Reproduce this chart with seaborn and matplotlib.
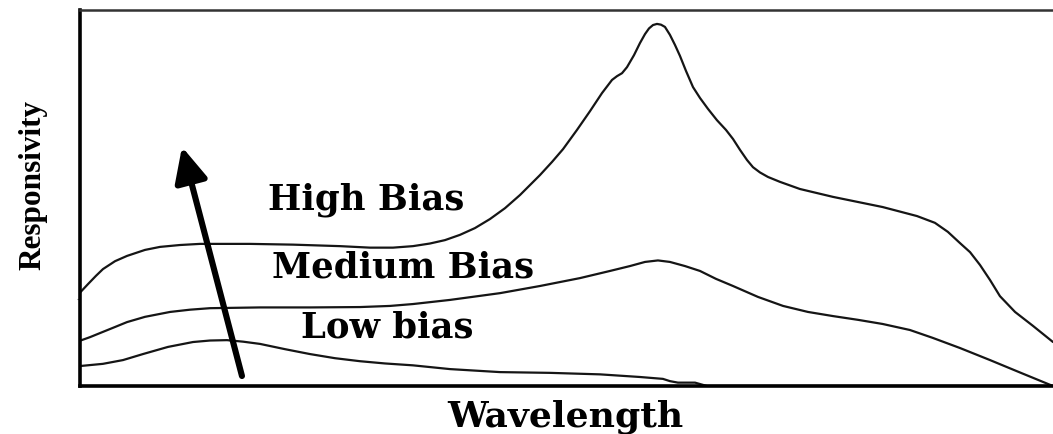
import matplotlib
matplotlib.use("Agg")
import matplotlib.pyplot as plt
import numpy as np
import pandas as pd
import seaborn as sns

# Relative responsivity spectra (arbitrary units) at three bias levels
wl_high = [0, 0.87, 1.69, 2.41, 3.65, 4.88, 6.73, 8.27, 10.32, 12.38, 17.51, 21.93,
           26.76, 29.84, 32.2, 34.25, 36.0, 37.54, 39.08, 40.62, 42.16, 43.71,
           45.25, 47.3, 48.54, 49.67, 51.1, 52.44, 53.67, 54.7, 55.21, 55.73, 56.24,
           56.96, 57.57, 58.09, 58.5, 58.91, 59.32, 59.73, 60.14, 60.65, 61.17,
           61.68, 62.3, 63.02, 63.74, 64.56, 65.48, 66.41, 67.13, 67.85, 68.57,
           69.18, 69.9, 70.72, 71.95, 74.0, 77.4, 82.5, 86.03, 87.87, 89.2, 90.45,
           91.48, 92.5, 93.53, 94.55, 96.1, 97.94, 100]
resp_high = [24.7, 27.1, 29.3, 31.1, 33.2, 34.6, 36.2, 37.0, 37.5, 37.8, 37.8, 37.6,
             37.2, 36.8, 36.8, 37.2, 37.9, 38.8, 40.2, 42.0, 44.4, 47.3,
             50.8, 56.1, 59.6, 63.0, 68.1, 73.1, 77.9, 81.4, 82.4, 83.2, 84.8,
             88.0, 91.2, 93.6, 95.1, 96.0, 96.3, 96.1, 95.5, 93.4, 90.7,
             87.8, 83.8, 79.5, 76.6, 73.7, 70.7, 68.1, 65.7, 62.8, 60.1,
             58.2, 56.8, 55.6, 54.3, 52.4, 50.3, 47.6, 45.2, 43.4, 41.0, 38.0,
             35.6, 32.2, 28.2, 23.9, 19.7, 16.0, 11.7]

wl_medium = [0, 1.08, 2.41, 3.65, 4.88, 6.73, 9.30, 11.35, 13.41, 18.54, 23.68,
             28.81, 31.9, 34.25, 38.06, 43.2, 47.3, 51.41, 54.49, 56.54, 58.09,
             59.42, 60.65, 62.2, 63.74, 65.38, 67.13, 69.69, 72.27, 74.83, 77.4,
             79.97, 82.5, 85.3, 87.65, 90.45, 93.53, 96.61, 100]
resp_medium = [12.0, 13.0, 14.4, 15.7, 17.0, 18.4, 19.7, 20.3, 20.7, 20.9, 20.9,
               21.0, 21.3, 21.8, 22.9, 24.7, 26.6, 28.7, 30.6, 31.9, 33.0,
               33.4, 33.0, 31.9, 30.6, 28.5, 26.6, 23.7, 21.3, 19.7, 18.6,
               17.6, 16.5, 14.9, 12.8, 10.1, 6.9, 3.6, 0.0]

wl_low = [0, 2.41, 4.47, 6.52, 9.09, 11.66, 13.41, 15.15, 16.79, 18.54, 21.11,
          23.67, 26.24, 28.81, 31.38, 34.25, 38.06, 43.2, 48.33, 53.47, 57.57,
          59.93, 60.65, 61.47, 63.23, 64.46, 100]
resp_low = [5.3, 5.9, 6.9, 8.5, 10.4, 11.7, 12.1, 12.2, 11.8, 11.2, 9.8,
            8.5, 7.4, 6.6, 6.0, 5.5, 4.5, 3.7, 3.5, 3.1, 2.4,
            1.9, 1.3, 0.9, 0.9, 0.0, 0.0]

labels = ["High Bias", "Medium Bias", "Low bias"]

df = pd.concat([
    pd.DataFrame({"Wavelength": wl_high, "Responsivity": resp_high, "bias": labels[0]}),
    pd.DataFrame({"Wavelength": wl_medium, "Responsivity": resp_medium, "bias": labels[1]}),
    pd.DataFrame({"Wavelength": wl_low, "Responsivity": resp_low, "bias": labels[2]}),
], ignore_index=True)

sns.set_theme(style="white")
plt.rcParams["font.family"] = ["DejaVu Serif", "DejaVu Sans"]

fig = plt.figure(figsize=(10.53, 4.35), dpi=100)
ax = fig.add_axes([0.0755, 0.1103, 0.9245, 0.8644])

sns.lineplot(data=df, x="Wavelength", y="Responsivity", units="bias",
             estimator=None, sort=False, color="#151515", linewidth=1.6,
             ax=ax, legend=False)
for line in ax.get_lines():
    line.set_solid_joinstyle("round")

ax.set_xlim(0, 100)
ax.set_ylim(0, 100)

# Frame: heavy left/bottom axes, lighter top rule, open right side
for side in ("left", "bottom"):
    ax.spines[side].set_linewidth(2.6)
    ax.spines[side].set_color("black")
ax.spines["top"].set_linewidth(1.8)
ax.spines["top"].set_color("#333333")
ax.spines["right"].set_visible(False)

ax.set_xticks([])
ax.set_yticks([23.1])
ax.set_yticklabels([])
ax.tick_params(axis="y", direction="out", length=2.5, width=0.8,
               color="#777777", left=True)

# Curve labels
label_font = dict(family="DejaVu Serif", fontweight="bold", fontsize=25.5,
                  color="black", ha="center", va="baseline",
                  transform=ax.transAxes)
ax.text(0.294, 0.471, labels[0], **label_font)
ax.text(0.332, 0.290, labels[1], **label_font)
ax.text(0.316, 0.133, labels[2], **label_font)

# Increasing-bias arrow
ax.annotate("", xy=(10.53, 63.6), xytext=(16.69, 2.66),
            arrowprops=dict(arrowstyle="-|>,head_length=1.05,head_width=0.5",
                            mutation_scale=20, lw=4.4, color="black",
                            shrinkA=0, shrinkB=0, capstyle="round"))

ax.set_xlabel("Wavelength", family="DejaVu Serif", fontweight="bold",
              fontsize=26, color="black", va="baseline")
ax.xaxis.set_label_coords(0.4987, -0.106)
ax.set_ylabel("Responsivity", family="Liberation Serif", fontweight="bold",
              fontsize=22.5, color="black", va="center")
ax.yaxis.set_label_coords(-0.048, 0.537)

fig.savefig("out.png", dpi=100)
